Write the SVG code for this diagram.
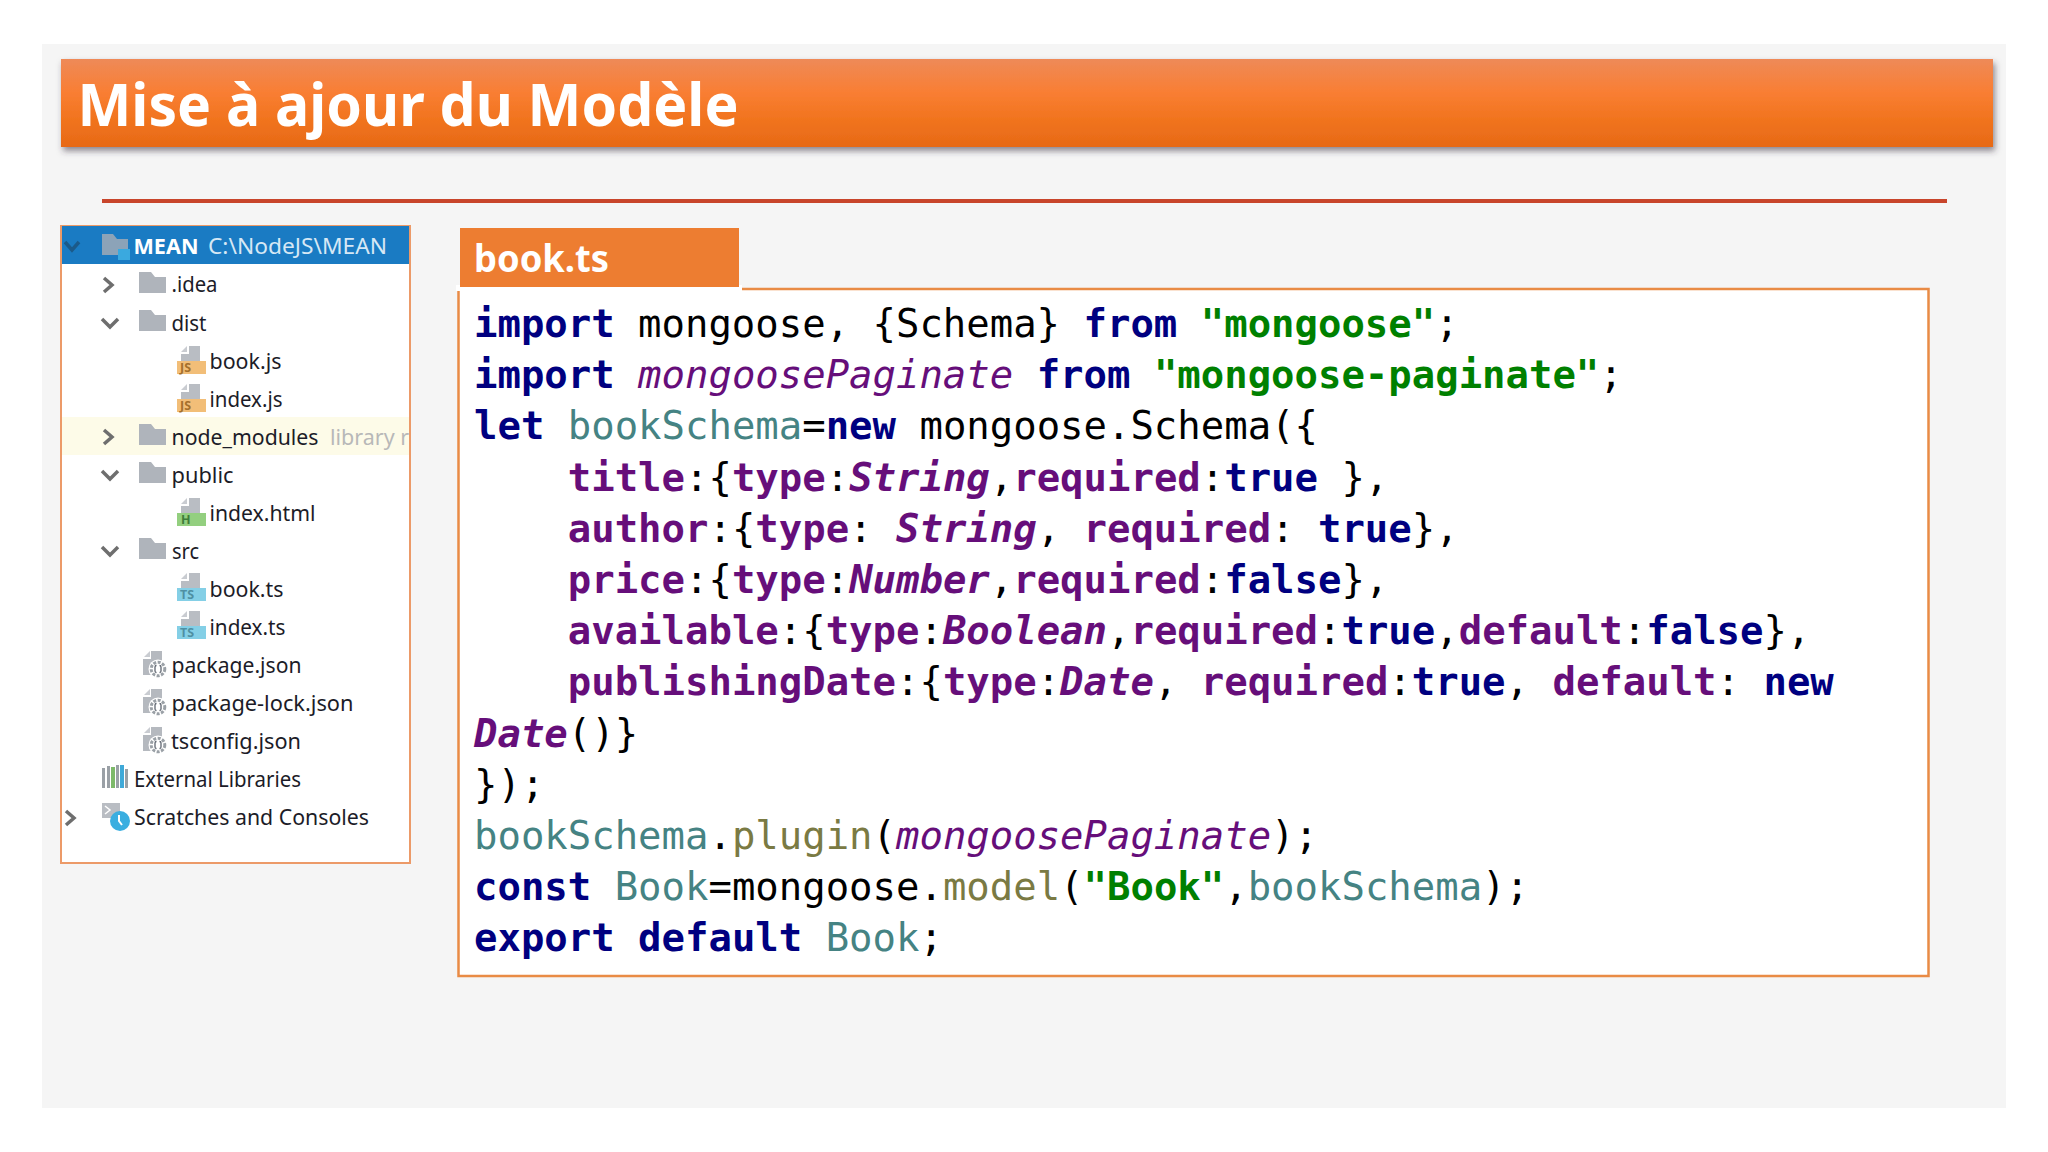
<svg xmlns="http://www.w3.org/2000/svg" xmlns:xlink="http://www.w3.org/1999/xlink" width="2048" height="1152" viewBox="0 0 2048 1152">
<style>
.ui{font-family:"Noto Sans","Open Sans",sans-serif}
.r{font-size:21.5px;fill:#1c1c28}
.hd{font-size:21.5px}
.b{font-size:12.5px;font-weight:700}
.code{font-family:"DejaVu Sans Mono","Liberation Mono",monospace;font-size:38.95px;white-space:pre;fill:#000}
.k{fill:#000080;font-weight:700}
.s{fill:#008000;font-weight:700}
.f{fill:#660E7A;font-weight:700}
.t{fill:#660E7A;font-weight:700;font-style:italic}
.i{fill:#660E7A;font-style:italic}
.v{fill:#458383}
.m{fill:#7A7A43}
.chev{fill:none;stroke:#6e6e6e;stroke-width:3.5}
</style>
<defs>
<linearGradient id="barG" x1="0" y1="0" x2="0" y2="1">
<stop offset="0" stop-color="#EE8A58"/><stop offset=".38" stop-color="#F97E33"/><stop offset=".65" stop-color="#F27520"/><stop offset="1" stop-color="#E76916"/>
</linearGradient>
<filter id="sh" x="-2%" y="-20%" width="104%" height="150%"><feDropShadow dx="2" dy="4" stdDeviation="3" flood-color="#3a3040" flood-opacity=".55"/></filter>
<clipPath id="treeClip"><rect x="62" y="226" width="347" height="636"/></clipPath>
<path id="folder" d="M0 0H12L16 5H27V21H0Z" fill="#AFB4BB"/>
<g id="page"><path d="M4 6L10 0V6Z" fill="#C9CCD1"/><path d="M12 0H23V15H4V8H12Z" fill="#B9BDC3"/></g>
<g id="json">
<path d="M1 6L7 0V6Z" fill="#C9CCD1"/><path d="M8 0H19V24H0V8H8Z" fill="#B5B9BF"/>
<circle cx="15" cy="18" r="9.5" fill="#fff"/><circle cx="15" cy="18" r="6.8" fill="none" stroke="#9AA0A6" stroke-width="3" stroke-dasharray="3 1.5"/>
<path d="M13.5 14.5Q12 14.5 12 16V20Q12 21.5 13.5 21.5M16.5 14.5Q18 14.5 18 16V20Q18 21.5 16.5 21.5" fill="none" stroke="#5f6670" stroke-width="1.3"/>
</g>
<path id="cr" d="M0 0L8 7L0 14" class="chev"/>
<path id="cd" d="M0 0L8 8L16 0" class="chev"/>
</defs>
<rect width="2048" height="1152" fill="#fff"/>
<rect x="42" y="44" width="1964" height="1064" fill="#F5F5F5"/>
<g id="title">
<rect x="61" y="59" width="1932" height="88" fill="url(#barG)" filter="url(#sh)"/>
<text class="ui" x="77.500" y="126" font-size="60" font-weight="700" fill="#fff" textLength="661" lengthAdjust="spacingAndGlyphs">Mise à ajour du Modèle</text>
</g>
<rect id="rule" x="102" y="199" width="1845" height="4" fill="#C8452B"/>
<g id="tree">
<rect x="61" y="226" width="349" height="637" fill="#fff" stroke="#EC9A68" stroke-width="2"/>
<g clip-path="url(#treeClip)" class="ui">
<g id="row-mean">
<rect x="62" y="226" width="347" height="38" fill="#1A7BC3"/>
<path d="M65 242L72 250L79 242" fill="none" stroke="#1B5A8A" stroke-width="3.5"/>
<path d="M102 234H113L117 239H128V255H102Z" fill="#8CA3B8"/>
<rect x="118" y="249" width="12" height="11" fill="#3AA9DF"/>
<text x="133.500" y="254" class="hd" font-weight="700" fill="#fff" textLength="65" lengthAdjust="spacingAndGlyphs">MEAN</text>
<text x="208" y="254" class="hd" fill="#D6E8F5" textLength="179" lengthAdjust="spacingAndGlyphs">C:\NodeJS\MEAN</text>
</g>
<g id="row-idea"><use href="#cr" x="104" y="278"/><use href="#folder" x="139" y="272"/><text x="171.500" y="292" class="r" textLength="46" lengthAdjust="spacingAndGlyphs">.idea</text></g>
<g id="row-dist"><use href="#cd" x="102" y="319"/><use href="#folder" x="139" y="310"/><text x="171.500" y="331" class="r" textLength="35" lengthAdjust="spacingAndGlyphs">dist</text></g>
<g id="row-bookjs"><use href="#page" x="177" y="346"/><rect x="177" y="361" width="29" height="13" fill="#F2BE78"/><text x="180" y="372" class="b" fill="#A5702C">JS</text><text x="209.500" y="369" class="r" textLength="72" lengthAdjust="spacingAndGlyphs">book.js</text></g>
<g id="row-indexjs"><use href="#page" x="177" y="384"/><rect x="177" y="399" width="29" height="13" fill="#F2BE78"/><text x="180" y="410" class="b" fill="#A5702C">JS</text><text x="209.500" y="407" class="r" textLength="73" lengthAdjust="spacingAndGlyphs">index.js</text></g>
<g id="row-node-modules"><rect x="62" y="417" width="347" height="38" fill="#FDFBE8"/><use href="#cr" x="104" y="430"/><use href="#folder" x="139" y="424"/><text x="171.500" y="445" class="r" textLength="147" lengthAdjust="spacingAndGlyphs">node_modules</text><text x="330" y="445" class="r" style="fill:#B8B8B8">library r</text></g>
<g id="row-public"><use href="#cd" x="102" y="471"/><use href="#folder" x="139" y="462"/><text x="171.500" y="483" class="r" textLength="62" lengthAdjust="spacingAndGlyphs">public</text></g>
<g id="row-indexhtml"><use href="#page" x="177" y="498"/><rect x="177" y="513" width="29" height="13" fill="#93CF7F"/><text x="181" y="524" class="b" fill="#3F7D3B">H</text><text x="209.500" y="521" class="r" textLength="106" lengthAdjust="spacingAndGlyphs">index.html</text></g>
<g id="row-src"><use href="#cd" x="102" y="547"/><use href="#folder" x="139" y="538"/><text x="172" y="559" class="r" textLength="27" lengthAdjust="spacingAndGlyphs">src</text></g>
<g id="row-bookts"><use href="#page" x="177" y="573"/><rect x="177" y="588" width="29" height="13" fill="#84CFE6"/><text x="180" y="599" class="b" fill="#4F8FA3">TS</text><text x="209.500" y="597" class="r" textLength="74" lengthAdjust="spacingAndGlyphs">book.ts</text></g>
<g id="row-indexts"><use href="#page" x="177" y="611"/><rect x="177" y="626" width="29" height="13" fill="#84CFE6"/><text x="180" y="637" class="b" fill="#4F8FA3">TS</text><text x="209.500" y="635" class="r" textLength="76" lengthAdjust="spacingAndGlyphs">index.ts</text></g>
<g id="row-package"><use href="#json" x="143" y="651"/><text x="171.500" y="673" class="r" textLength="130" lengthAdjust="spacingAndGlyphs">package.json</text></g>
<g id="row-lock"><use href="#json" x="143" y="689"/><text x="171.500" y="711" class="r" textLength="182" lengthAdjust="spacingAndGlyphs">package-lock.json</text></g>
<g id="row-tsconfig"><use href="#json" x="143" y="727"/><text x="171" y="749" class="r" textLength="130" lengthAdjust="spacingAndGlyphs">tsconfig.json</text></g>
<g id="row-ext">
<rect x="102" y="768" width="3" height="20" fill="#9AA0A6"/><rect x="107" y="766" width="3" height="22" fill="#9AA0A6"/><rect x="111" y="767" width="4" height="21" fill="#7DB96A"/><rect x="116" y="765" width="3" height="23" fill="#9AA0A6"/><rect x="120" y="765" width="4" height="23" fill="#3FA9D8"/><rect x="125" y="769" width="3" height="19" fill="#9AA0A6"/>
<text x="134" y="787" class="r" textLength="167" lengthAdjust="spacingAndGlyphs">External Libraries</text></g>
<g id="row-scratches"><use href="#cr" x="66" y="811"/>
<rect x="102" y="803" width="18" height="15" fill="#B9BDC3"/><path d="M105 806L110 810L105 814" fill="none" stroke="#fff" stroke-width="1.5"/>
<circle cx="120" cy="821" r="10" fill="#3AAEE0"/><path d="M119 815V821L122 825" fill="none" stroke="#fff" stroke-width="2"/>
<text x="134" y="825" class="r" textLength="235" lengthAdjust="spacingAndGlyphs">Scratches and Consoles</text></g>
</g>
</g>
<g id="code-box">
<rect x="458.500" y="289" width="1470" height="687" fill="#fff" stroke="#E98B45" stroke-width="2.500"/>
<rect x="456" y="225" width="285" height="65" fill="#F5F5F5"/>
<rect x="456" y="285" width="286" height="6" fill="#fff"/>
<text class="code" xml:space="preserve"><tspan x="474" y="337"><tspan class="k">import</tspan> mongoose, {Schema} <tspan class="k">from</tspan> <tspan class="s">"mongoose"</tspan>;</tspan><tspan x="474" y="388.200"><tspan class="k">import</tspan> <tspan class="i">mongoosePaginate</tspan> <tspan class="k">from</tspan> <tspan class="s">"mongoose-paginate"</tspan>;</tspan><tspan x="474" y="439.400"><tspan class="k">let</tspan> <tspan class="v">bookSchema</tspan>=<tspan class="k">new</tspan> mongoose.Schema({</tspan><tspan x="474" y="490.600">    <tspan class="f">title</tspan>:{<tspan class="f">type</tspan>:<tspan class="t">String</tspan>,<tspan class="f">required</tspan>:<tspan class="k">true</tspan> },</tspan><tspan x="474" y="541.800">    <tspan class="f">author</tspan>:{<tspan class="f">type</tspan>: <tspan class="t">String</tspan>, <tspan class="f">required</tspan>: <tspan class="k">true</tspan>},</tspan><tspan x="474" y="593">    <tspan class="f">price</tspan>:{<tspan class="f">type</tspan>:<tspan class="t">Number</tspan>,<tspan class="f">required</tspan>:<tspan class="k">false</tspan>},</tspan><tspan x="474" y="644.200">    <tspan class="f">available</tspan>:{<tspan class="f">type</tspan>:<tspan class="t">Boolean</tspan>,<tspan class="f">required</tspan>:<tspan class="k">true</tspan>,<tspan class="f">default</tspan>:<tspan class="k">false</tspan>},</tspan><tspan x="474" y="695.400">    <tspan class="f">publishingDate</tspan>:{<tspan class="f">type</tspan>:<tspan class="t">Date</tspan>, <tspan class="f">required</tspan>:<tspan class="k">true</tspan>, <tspan class="f">default</tspan>: <tspan class="k">new</tspan></tspan><tspan x="474" y="746.600"><tspan class="t">Date</tspan>()}</tspan><tspan x="474" y="797.800">});</tspan><tspan x="474" y="849"><tspan class="v">bookSchema</tspan>.<tspan class="m">plugin</tspan>(<tspan class="i">mongoosePaginate</tspan>);</tspan><tspan x="474" y="900.200"><tspan class="k">const</tspan> <tspan class="v">Book</tspan>=mongoose.<tspan class="m">model</tspan>(<tspan class="s">"Book"</tspan>,<tspan class="v">bookSchema</tspan>);</tspan><tspan x="474" y="951.400"><tspan class="k">export</tspan> <tspan class="k">default</tspan> <tspan class="v">Book</tspan>;</tspan></text>
</g>
<g id="tab">
<rect x="460" y="228" width="279" height="59" fill="#ED7D31"/>
<text class="ui" x="474" y="272" font-size="37" font-weight="700" fill="#fff" textLength="135" lengthAdjust="spacingAndGlyphs">book.ts</text>
</g>
</svg>
